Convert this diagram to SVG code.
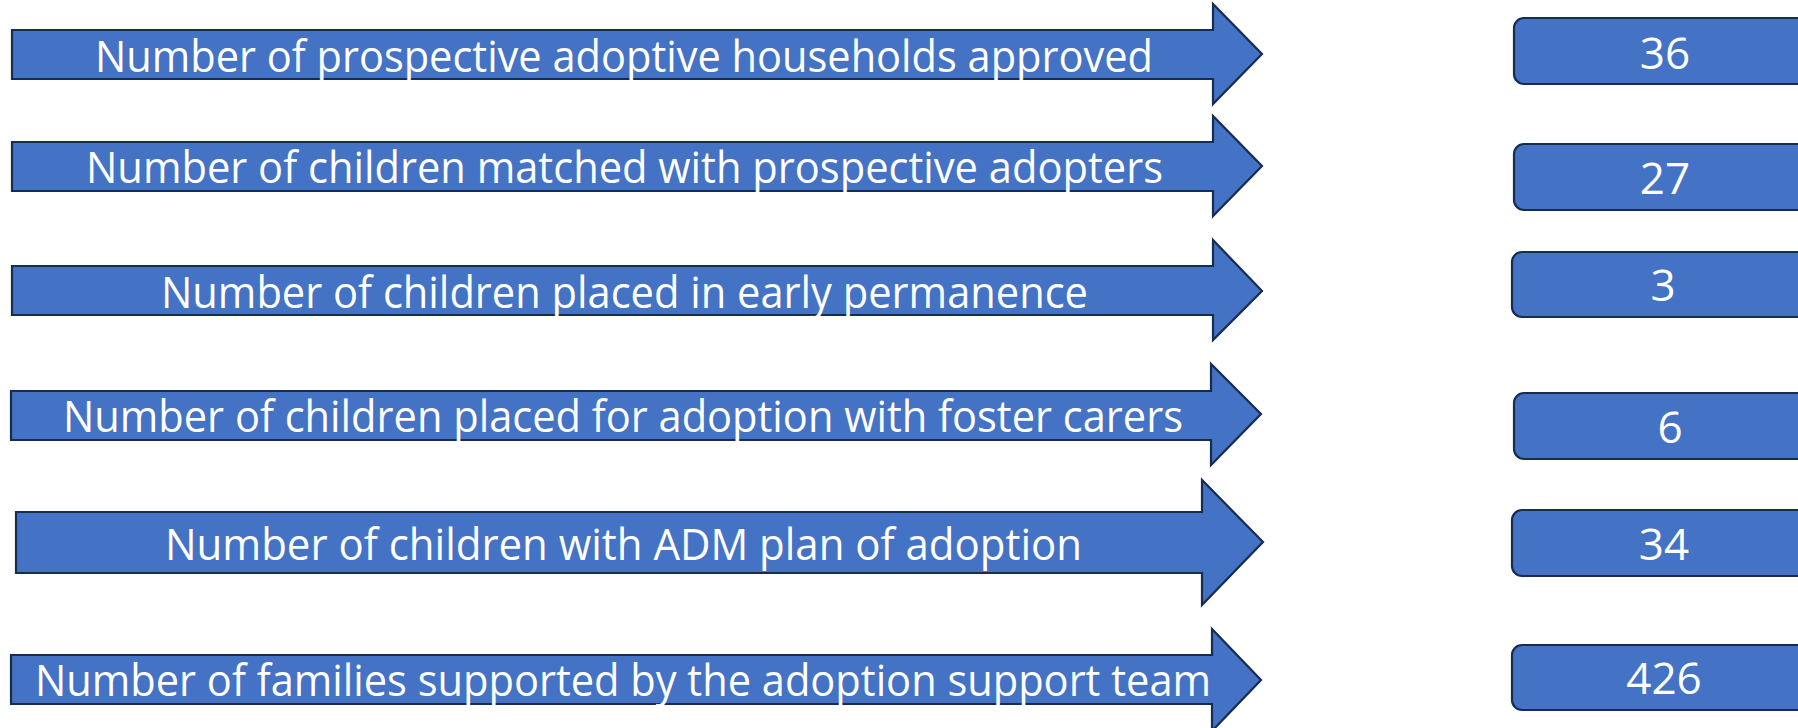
<svg xmlns="http://www.w3.org/2000/svg" width="1798" height="728" viewBox="0 0 1798 728">
<style>
.arrow{fill:#4472C4;stroke:#172C51;stroke-width:2.2;stroke-linejoin:miter}
.box{fill:#4472C4;stroke:#172C51;stroke-width:2.2}
.lbl{font-family:"Open Sans","Noto Sans","Liberation Sans",sans-serif;font-size:44px;fill:#FFFFFF}
.num{font-family:"Open Sans","Noto Sans","Liberation Sans",sans-serif;font-size:44px;fill:#FFFFFF;text-anchor:middle}
</style>
<rect width="1798" height="728" fill="#FFFFFF"/>
<g id="arrow1">
<path class="arrow" d="M12 30 H1213 V4 L1262 54 L1213 104 V79 H12 Z"/>
<text class="lbl" x="95" y="72" textLength="1058" lengthAdjust="spacingAndGlyphs">Number of prospective adoptive households approved</text>
</g>
<g id="arrow2">
<path class="arrow" d="M12 142 H1213 V116 L1262 166 L1213 216 V191 H12 Z"/>
<text class="lbl" x="86" y="183" textLength="1077" lengthAdjust="spacingAndGlyphs">Number of children matched with prospective adopters</text>
</g>
<g id="arrow3">
<path class="arrow" d="M12 266 H1213 V240 L1262 291 L1213 340 V315 H12 Z"/>
<text class="lbl" x="161" y="308" textLength="927" lengthAdjust="spacingAndGlyphs">Number of children placed in early permanence</text>
</g>
<g id="arrow4">
<path class="arrow" d="M11 391 H1211 V364 L1261 414 L1211 465 V440 H11 Z"/>
<text class="lbl" x="63" y="432" textLength="1120" lengthAdjust="spacingAndGlyphs">Number of children placed for adoption with foster carers</text>
</g>
<g id="arrow5">
<path class="arrow" d="M16 512 H1202 V480 L1263 542 L1202 605 V573 H16 Z"/>
<text class="lbl" x="165" y="560" textLength="917" lengthAdjust="spacingAndGlyphs">Number of children with ADM plan of adoption</text>
</g>
<g id="arrow6">
<path class="arrow" d="M11 655 H1212 V629 L1261 680 L1212 731 V704 H11 Z"/>
<text class="lbl" x="35" y="696" textLength="1176" lengthAdjust="spacingAndGlyphs">Number of families supported by the adoption support team</text>
</g>
<g id="box1">
<rect class="box" x="1514" y="18" width="400" height="66" rx="10"/>
<text class="num" x="1665" y="69">36</text>
</g>
<g id="box2">
<rect class="box" x="1514" y="144" width="400" height="66" rx="10"/>
<text class="num" x="1665" y="194">27</text>
</g>
<g id="box3">
<rect class="box" x="1512" y="252" width="400" height="65" rx="10"/>
<text class="num" x="1663" y="301">3</text>
</g>
<g id="box4">
<rect class="box" x="1514" y="393" width="400" height="66" rx="10"/>
<text class="num" x="1670" y="443">6</text>
</g>
<g id="box5">
<rect class="box" x="1512" y="510" width="400" height="66" rx="10"/>
<text class="num" x="1664" y="560">34</text>
</g>
<g id="box6">
<rect class="box" x="1512" y="645" width="400" height="65" rx="10"/>
<text class="num" x="1664" y="694">426</text>
</g>
<g id="connectors"></g>
</svg>
